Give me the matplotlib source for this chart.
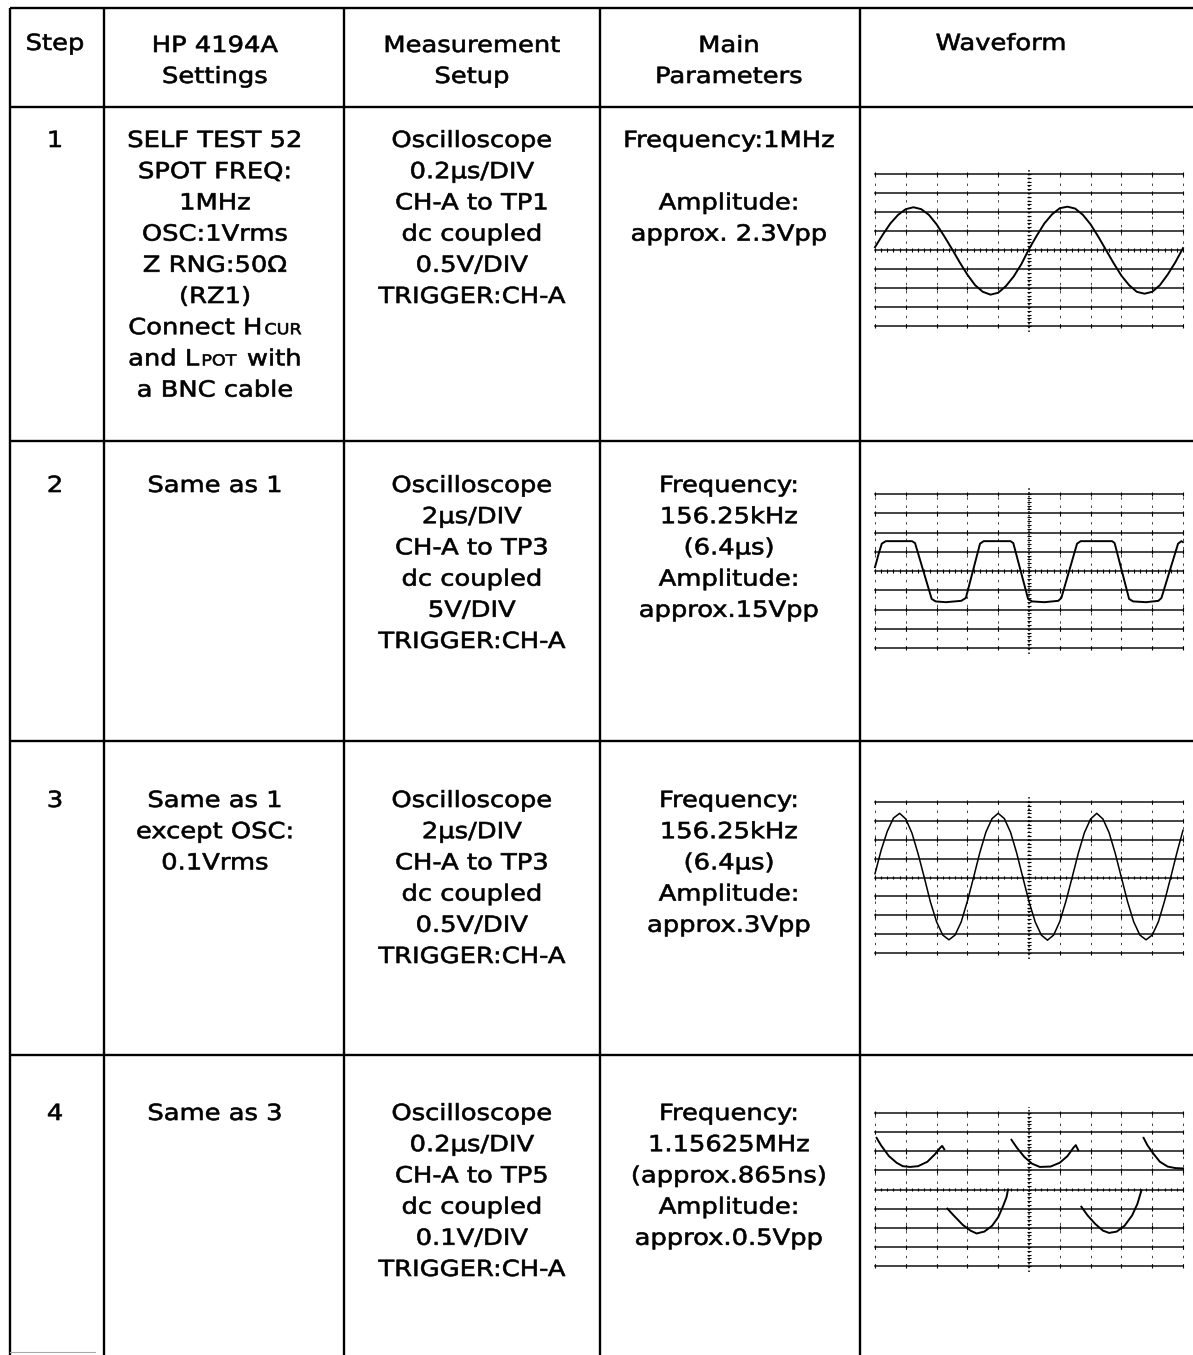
import matplotlib
matplotlib.use("Agg")
import matplotlib.pyplot as plt
import numpy as np
from matplotlib.patheffects import AbstractPathEffect
from matplotlib.transforms import Affine2D

plt.rcParams['font.family'] = ['DejaVu Sans']

# ---- table text ----
header_text = [["Step"], ["HP 4194A", "Settings"], ["Measurement", "Setup"],
               ["Main", "Parameters"], ["Waveform"]]
step_labels = ["1", "2", "3", "4"]
settings_text = [
    ["SELF TEST 52", "SPOT FREQ:", "1MHz", "OSC:1Vrms", "Z RNG:50\u03a9", "(RZ1)",
     [("Connect H", 1.0), ("CUR", 0.68)],
     [("and L", 1.0), ("POT", 0.68), (" with", 1.0)],
     "a BNC cable"],
    ["Same as 1"],
    ["Same as 1", "except OSC:", "0.1Vrms"],
    ["Same as 3"],
]
setup_text = [
    ["Oscilloscope", "0.2\u00b5s/DIV", "CH-A to TP1", "dc coupled", "0.5V/DIV", "TRIGGER:CH-A"],
    ["Oscilloscope", "2\u00b5s/DIV", "CH-A to TP3", "dc coupled", "5V/DIV", "TRIGGER:CH-A"],
    ["Oscilloscope", "2\u00b5s/DIV", "CH-A to TP3", "dc coupled", "0.5V/DIV", "TRIGGER:CH-A"],
    ["Oscilloscope", "0.2\u00b5s/DIV", "CH-A to TP5", "dc coupled", "0.1V/DIV", "TRIGGER:CH-A"],
]
params_text = [
    ["Frequency:1MHz", "", "Amplitude:", "approx. 2.3Vpp"],
    ["Frequency:", "156.25kHz", "(6.4\u00b5s)", "Amplitude:", "approx.15Vpp"],
    ["Frequency:", "156.25kHz", "(6.4\u00b5s)", "Amplitude:", "approx.3Vpp"],
    ["Frequency:", "1.15625MHz", "(approx.865ns)", "Amplitude:", "approx.0.5Vpp"],
]

# ---- waveforms, in screen divisions (x 0..10, y -4..4) ----
wave1_x = np.arange(0, 10.01, 0.25)
wave1_y = [0.15, 0.8, 1.4, 1.85, 2.15, 2.25, 2.15, 1.85, 1.35, 0.72, 0.05,
           -0.65, -1.3, -1.85, -2.2, -2.35, -2.25, -1.9, -1.4, -0.75, 0.05,
           0.75, 1.4, 1.88, 2.2, 2.28, 2.18, 1.85, 1.35, 0.7, 0.0,
           -0.7, -1.35, -1.85, -2.2, -2.3, -2.2, -1.85, -1.3, -0.65, 0.1]

wave2_x = [0, 0.12, 0.22, 0.35, 1.2, 1.3, 1.84, 1.97, 2.3, 2.8, 2.95, 3.41, 3.53,
           4.4, 4.49, 4.97, 5.1, 5.5, 5.95, 6.05, 6.56, 6.68, 7.7, 7.78, 8.25,
           8.38, 8.8, 9.2, 9.3, 9.84, 9.95, 10.0]
wave2_y = [0.2, 0.9, 1.42, 1.55, 1.55, 1.45, -1.45, -1.58, -1.62, -1.55, -1.4, 1.42,
           1.55, 1.55, 1.45, -1.45, -1.58, -1.62, -1.55, -1.4, 1.42, 1.55, 1.55,
           1.45, -1.45, -1.58, -1.62, -1.55, -1.4, 1.42, 1.55, 1.5]

wave3_x = np.arange(0, 10.01, 0.2)
wave3_y = [0.2, 1.45, 2.45, 3.15, 3.4, 3.1, 2.35, 1.25, 0.0, -1.3, -2.35, -3.05, -3.3,
           -3.05, -2.35, -1.25, 0.0, 1.3, 2.4, 3.12, 3.4, 3.12, 2.4, 1.3, 0.0,
           -1.28, -2.35, -3.05, -3.32, -3.05, -2.33, -1.25, 0.0, 1.28, 2.38, 3.1,
           3.4, 3.1, 2.38, 1.28, 0.0, -1.28, -2.35, -3.05, -3.3, -3.05, -2.35,
           -1.25, 0.0, 1.3, 2.5]

wave4_x = [[0.05, 0.2, 0.45, 0.7, 0.9, 1.14, 1.4, 1.7, 1.95, 2.1, 2.18, 2.25],
           [2.35, 2.55, 2.85, 3.1, 3.3, 3.55, 3.8, 4.0, 4.15, 4.27, 4.32],
           [4.43, 4.6, 4.85, 5.1, 5.35, 5.7, 6.0, 6.25, 6.45, 6.52, 6.6],
           [6.7, 6.9, 7.15, 7.4, 7.6, 7.85, 8.1, 8.35, 8.52, 8.65],
           [8.72, 8.85, 9.05, 9.25, 9.5, 9.75, 10.0]]
wave4_y = [[2.7, 2.3, 1.75, 1.4, 1.22, 1.18, 1.22, 1.45, 1.85, 2.15, 2.28, 2.1],
           [-1.0, -1.35, -1.85, -2.15, -2.3, -2.2, -1.9, -1.45, -0.9, -0.4, 0.0],
           [2.6, 2.2, 1.7, 1.35, 1.18, 1.2, 1.4, 1.75, 2.2, 2.32, 2.05],
           [-0.9, -1.35, -1.8, -2.15, -2.27, -2.2, -1.9, -1.35, -0.75, -0.05],
           [2.7, 2.3, 1.85, 1.45, 1.2, 1.12, 1.1]]

W, H = 1193, 1355
fig = plt.figure(figsize=(W / 100, H / 100), dpi=100)
ax = fig.add_axes([0, 0, 1, 1])
ax.set_xlim(0, W)
ax.set_ylim(H, 0)
ax.axis('off')

FS = 16
SX = 1.16  # the scanned typeface is set much wider than DejaVu
col_x = [10, 104, 344, 600, 860]
col_center = [55, 215, 472, 729, 1001]
row_y = [8, 107, 441, 741, 1055]
row_first_base = [147, 492, 807, 1120]
line_step = 31.2


class Widen(AbstractPathEffect):
    """stretch text horizontally about its own centre, with a slightly heavier stroke"""
    def __init__(self, sx, stroke):
        super().__init__()
        self.sx = sx
        self.stroke = stroke

    def draw_path(self, renderer, gc, tpath, affine, rgbFace=None):
        ext = tpath.get_extents()
        cx = (ext.x0 + ext.x1) / 2
        t = Affine2D().translate(-cx, 0).scale(self.sx, 1).translate(cx, 0) + affine
        gc0 = renderer.new_gc()
        gc0.copy_properties(gc)
        gc0.set_linewidth(self.stroke)
        renderer.draw_path(gc0, tpath, t, rgbFace)
        gc0.restore()


widen = [Widen(SX, 0.45)]

# table lines
for yy in row_y:
    ax.plot([10, W], [yy, yy], color='black', lw=1.7, solid_capstyle='butt')
for xx in col_x:
    ax.plot([xx, xx], [8, H], color='black', lw=1.7, solid_capstyle='butt')
ax.plot([10, 95], [1352, 1352], color='#aaaaaa', lw=0.8)

renderer = fig.canvas.get_renderer()


def put_line(xc, y, item):
    if isinstance(item, str):
        if item:
            ax.text(xc, y, item, fontsize=FS, ha='center', va='baseline', path_effects=widen)
        return
    # mixed sizes (small caps)
    texts = []
    for s, scale in item:
        lead = s.startswith(" ")
        t = ax.text(0, y, s.strip(), fontsize=FS * scale, ha='left', va='baseline',
                    path_effects=widen)
        texts.append((t, lead))
    widths = [t.get_window_extent(renderer).width for t, _ in texts]
    gap = 8
    total = SX * sum(widths) + gap * sum(1 for _, lead in texts if lead) + 2 * (len(texts) - 1)
    x = xc - total / 2
    for (t, lead), w in zip(texts, widths):
        if lead:
            x += gap
        t.set_x(x + (SX - 1) * w / 2)
        x += SX * w + 2


# header
for c, lines in enumerate(header_text):
    base = 50 if len(lines) == 1 else 52
    for i, s in enumerate(lines):
        put_line(col_center[c], base + i * 31, s)

# rows
for r in range(4):
    b = row_first_base[r]
    put_line(col_center[0], b, step_labels[r])
    for i, s in enumerate(settings_text[r]):
        put_line(col_center[1], b + i * line_step, s)
    for i, s in enumerate(setup_text[r]):
        put_line(col_center[2], b + i * line_step, s)
    for i, s in enumerate(params_text[r]):
        put_line(col_center[3], b + i * line_step, s)

# oscilloscope screens
screens = [(875, 174, 1183, 326), (875, 494, 1183, 648),
           (875, 802, 1183, 953), (875, 1113, 1183, 1266)]


def screen_axes(box):
    x0, y0, x1, y1 = box
    sa = fig.add_axes([x0 / W, 1 - y1 / H, (x1 - x0) / W, (y1 - y0) / H])
    sa.set_xlim(0, 10)
    sa.set_ylim(-4, 4)
    sa.axis('off')
    grid_y = np.arange(-4, 4.1, 1)
    for yv in grid_y:
        sa.plot([0, 10], [yv, yv], color='#111111', lw=1.1, clip_on=False)
    for i in [0, 1, 2, 3, 4, 6, 7, 8, 9, 10]:
        sa.plot([i, i], [-4, 4], color='#444444', lw=0.7, ls=(0, (2.5, 6)), clip_on=False)
        sa.vlines(np.full(len(grid_y), i), grid_y - 0.12, grid_y + 0.12,
                  color='black', lw=0.8, clip_on=False)
    sa.plot([5, 5], [-4.3, 4.3], color='black', lw=1.1, ls=(0, (1, 1.5)), clip_on=False)
    minor = np.arange(0, 10.01, 0.2)
    sa.vlines(minor, -0.08, 0.08, color='black', lw=0.8)
    minor_y = np.arange(-4, 4.01, 0.2)
    sa.hlines(minor_y, 4.94, 5.06, color='black', lw=0.8, clip_on=False)
    return sa


s1 = screen_axes(screens[0])
s1.plot(wave1_x, wave1_y, color='black', lw=1.4, clip_on=False)
s2 = screen_axes(screens[1])
s2.plot(wave2_x, wave2_y, color='black', lw=1.4, clip_on=False)
s3 = screen_axes(screens[2])
s3.plot(wave3_x, wave3_y, color='black', lw=1.1, clip_on=False)
s4 = screen_axes(screens[3])
for xs, ys in zip(wave4_x, wave4_y):
    s4.plot(xs, ys, color='black', lw=1.4, clip_on=False)

fig.savefig("out.png", dpi=100)
